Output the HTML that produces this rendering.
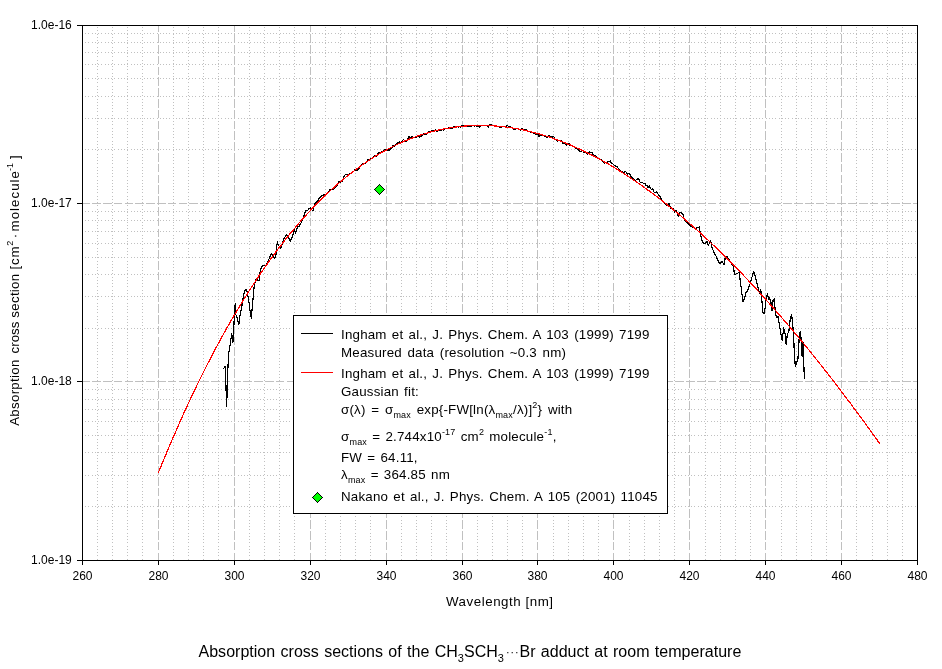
<!DOCTYPE html>
<html lang="en"><head><meta charset="utf-8"><title>Absorption cross sections of the CH3SCH3-Br adduct</title>
<style>html,body{margin:0;padding:0;background:#fff}body{width:942px;height:669px;overflow:hidden}svg{display:block;will-change:transform}text{font-family:"Liberation Sans",sans-serif;fill:#000}</style></head><body>
<svg width="942" height="669" viewBox="0 0 942 669">
<rect width="942" height="669" fill="#fff"/>
<defs><clipPath id="pc"><rect x="83" y="26" width="834" height="534"/></clipPath></defs>
<g clip-path="url(#pc)"><g shape-rendering="crispEdges" stroke="#c0c0c0" stroke-width="1" fill="none">
<line x1="97.5" y1="24" x2="97.5" y2="560" stroke-dasharray="1 2.24"/>
<line x1="112.5" y1="24" x2="112.5" y2="560" stroke-dasharray="1 2.24"/>
<line x1="127.5" y1="24" x2="127.5" y2="560" stroke-dasharray="1 2.24"/>
<line x1="142.5" y1="24" x2="142.5" y2="560" stroke-dasharray="1 2.24"/>
<line x1="158.5" y1="23.3" x2="158.5" y2="560" stroke-dasharray="8.64 2.16"/>
<line x1="173.5" y1="24" x2="173.5" y2="560" stroke-dasharray="1 2.24"/>
<line x1="188.5" y1="24" x2="188.5" y2="560" stroke-dasharray="1 2.24"/>
<line x1="203.5" y1="24" x2="203.5" y2="560" stroke-dasharray="1 2.24"/>
<line x1="218.5" y1="24" x2="218.5" y2="560" stroke-dasharray="1 2.24"/>
<line x1="234.5" y1="23.3" x2="234.5" y2="560" stroke-dasharray="8.64 2.16"/>
<line x1="249.5" y1="24" x2="249.5" y2="560" stroke-dasharray="1 2.24"/>
<line x1="264.5" y1="24" x2="264.5" y2="560" stroke-dasharray="1 2.24"/>
<line x1="279.5" y1="24" x2="279.5" y2="560" stroke-dasharray="1 2.24"/>
<line x1="294.5" y1="24" x2="294.5" y2="560" stroke-dasharray="1 2.24"/>
<line x1="310.5" y1="23.3" x2="310.5" y2="560" stroke-dasharray="8.64 2.16"/>
<line x1="325.5" y1="24" x2="325.5" y2="560" stroke-dasharray="1 2.24"/>
<line x1="340.5" y1="24" x2="340.5" y2="560" stroke-dasharray="1 2.24"/>
<line x1="355.5" y1="24" x2="355.5" y2="560" stroke-dasharray="1 2.24"/>
<line x1="370.5" y1="24" x2="370.5" y2="560" stroke-dasharray="1 2.24"/>
<line x1="386.5" y1="23.3" x2="386.5" y2="560" stroke-dasharray="8.64 2.16"/>
<line x1="401.5" y1="24" x2="401.5" y2="560" stroke-dasharray="1 2.24"/>
<line x1="416.5" y1="24" x2="416.5" y2="560" stroke-dasharray="1 2.24"/>
<line x1="431.5" y1="24" x2="431.5" y2="560" stroke-dasharray="1 2.24"/>
<line x1="446.5" y1="24" x2="446.5" y2="560" stroke-dasharray="1 2.24"/>
<line x1="462.5" y1="23.3" x2="462.5" y2="560" stroke-dasharray="8.64 2.16"/>
<line x1="477.5" y1="24" x2="477.5" y2="560" stroke-dasharray="1 2.24"/>
<line x1="492.5" y1="24" x2="492.5" y2="560" stroke-dasharray="1 2.24"/>
<line x1="507.5" y1="24" x2="507.5" y2="560" stroke-dasharray="1 2.24"/>
<line x1="522.5" y1="24" x2="522.5" y2="560" stroke-dasharray="1 2.24"/>
<line x1="537.5" y1="23.3" x2="537.5" y2="560" stroke-dasharray="8.64 2.16"/>
<line x1="553.5" y1="24" x2="553.5" y2="560" stroke-dasharray="1 2.24"/>
<line x1="568.5" y1="24" x2="568.5" y2="560" stroke-dasharray="1 2.24"/>
<line x1="583.5" y1="24" x2="583.5" y2="560" stroke-dasharray="1 2.24"/>
<line x1="598.5" y1="24" x2="598.5" y2="560" stroke-dasharray="1 2.24"/>
<line x1="613.5" y1="23.3" x2="613.5" y2="560" stroke-dasharray="8.64 2.16"/>
<line x1="629.5" y1="24" x2="629.5" y2="560" stroke-dasharray="1 2.24"/>
<line x1="644.5" y1="24" x2="644.5" y2="560" stroke-dasharray="1 2.24"/>
<line x1="659.5" y1="24" x2="659.5" y2="560" stroke-dasharray="1 2.24"/>
<line x1="674.5" y1="24" x2="674.5" y2="560" stroke-dasharray="1 2.24"/>
<line x1="689.5" y1="23.3" x2="689.5" y2="560" stroke-dasharray="8.64 2.16"/>
<line x1="705.5" y1="24" x2="705.5" y2="560" stroke-dasharray="1 2.24"/>
<line x1="720.5" y1="24" x2="720.5" y2="560" stroke-dasharray="1 2.24"/>
<line x1="735.5" y1="24" x2="735.5" y2="560" stroke-dasharray="1 2.24"/>
<line x1="750.5" y1="24" x2="750.5" y2="560" stroke-dasharray="1 2.24"/>
<line x1="765.5" y1="23.3" x2="765.5" y2="560" stroke-dasharray="8.64 2.16"/>
<line x1="781.5" y1="24" x2="781.5" y2="560" stroke-dasharray="1 2.24"/>
<line x1="796.5" y1="24" x2="796.5" y2="560" stroke-dasharray="1 2.24"/>
<line x1="811.5" y1="24" x2="811.5" y2="560" stroke-dasharray="1 2.24"/>
<line x1="826.5" y1="24" x2="826.5" y2="560" stroke-dasharray="1 2.24"/>
<line x1="841.5" y1="23.3" x2="841.5" y2="560" stroke-dasharray="8.64 2.16"/>
<line x1="856.5" y1="24" x2="856.5" y2="560" stroke-dasharray="1 2.24"/>
<line x1="872.5" y1="24" x2="872.5" y2="560" stroke-dasharray="1 2.24"/>
<line x1="887.5" y1="24" x2="887.5" y2="560" stroke-dasharray="1 2.24"/>
<line x1="902.5" y1="24" x2="902.5" y2="560" stroke-dasharray="1 2.24"/>
<line x1="81.3" y1="203.5" x2="917" y2="203.5" stroke-dasharray="8.64 2.16"/>
<line x1="82" y1="149.5" x2="917" y2="149.5" stroke-dasharray="1 2.24"/>
<line x1="82" y1="118.5" x2="917" y2="118.5" stroke-dasharray="1 2.24"/>
<line x1="82" y1="96.5" x2="917" y2="96.5" stroke-dasharray="1 2.24"/>
<line x1="82" y1="78.5" x2="917" y2="78.5" stroke-dasharray="1 2.24"/>
<line x1="82" y1="64.5" x2="917" y2="64.5" stroke-dasharray="1 2.24"/>
<line x1="82" y1="52.5" x2="917" y2="52.5" stroke-dasharray="1 2.24"/>
<line x1="82" y1="42.5" x2="917" y2="42.5" stroke-dasharray="1 2.24"/>
<line x1="82" y1="33.5" x2="917" y2="33.5" stroke-dasharray="1 2.24"/>
<line x1="81.3" y1="381.5" x2="917" y2="381.5" stroke-dasharray="8.64 2.16"/>
<line x1="82" y1="328.5" x2="917" y2="328.5" stroke-dasharray="1 2.24"/>
<line x1="82" y1="296.5" x2="917" y2="296.5" stroke-dasharray="1 2.24"/>
<line x1="82" y1="274.5" x2="917" y2="274.5" stroke-dasharray="1 2.24"/>
<line x1="82" y1="257.5" x2="917" y2="257.5" stroke-dasharray="1 2.24"/>
<line x1="82" y1="243.5" x2="917" y2="243.5" stroke-dasharray="1 2.24"/>
<line x1="82" y1="231.5" x2="917" y2="231.5" stroke-dasharray="1 2.24"/>
<line x1="82" y1="220.5" x2="917" y2="220.5" stroke-dasharray="1 2.24"/>
<line x1="82" y1="211.5" x2="917" y2="211.5" stroke-dasharray="1 2.24"/>
<line x1="82" y1="506.5" x2="917" y2="506.5" stroke-dasharray="1 2.24"/>
<line x1="82" y1="475.5" x2="917" y2="475.5" stroke-dasharray="1 2.24"/>
<line x1="82" y1="452.5" x2="917" y2="452.5" stroke-dasharray="1 2.24"/>
<line x1="82" y1="435.5" x2="917" y2="435.5" stroke-dasharray="1 2.24"/>
<line x1="82" y1="421.5" x2="917" y2="421.5" stroke-dasharray="1 2.24"/>
<line x1="82" y1="409.5" x2="917" y2="409.5" stroke-dasharray="1 2.24"/>
<line x1="82" y1="399.5" x2="917" y2="399.5" stroke-dasharray="1 2.24"/>
<line x1="82" y1="389.5" x2="917" y2="389.5" stroke-dasharray="1 2.24"/>
</g></g>
<polyline points="223.5,368.7 225.1,366.4 225.8,382.1 226.7,406.8 227.3,382.1 228.5,355.2 230.2,344.0 231.8,333.9 232.9,342.9 234.1,321.6 235.2,303.6 235.9,314.8 237.4,318.2 238.8,324.9 240.1,314.8 241.9,305.9 243.7,294.7 245.3,289.1 246.8,290.2 248.6,299.1 250.0,310.4 251.3,318.2 252.4,305.9 253.6,292.4 254.5,283.5 255.0,283.1 256.4,278.1 257.8,280.2 259.0,280.9 259.7,276.0 260.4,269.6 262.1,266.0 263.8,265.3 265.7,266.0 267.1,263.2 268.5,260.3 269.9,256.8 271.3,253.5 272.3,254.7 273.5,257.5 274.9,258.2 276.0,254.7 276.6,247.6 277.4,241.9 278.0,244.7 279.1,246.1 280.6,248.3 281.7,245.4 282.7,241.9 284.1,238.3 285.5,236.2 286.5,234.8 287.7,236.2 289.1,239.0 290.2,241.2 291.6,238.3 293.1,234.1 294.1,229.8 295.5,233.4 296.5,230.5 297.6,227.0 299.3,226.2 300.7,223.4 301.9,221.3 303.3,217.7 304.7,213.5 306.1,210.3 307.6,210.6 309.0,208.5 310.4,207.8 311.8,209.9 313.0,210.6 313.9,206.4 315.4,202.8 317.5,201.4 319.6,197.8 321.8,195.7 323.9,195.0 325.1,195.2 326.2,195.0 327.4,193.3 328.5,191.9 329.7,189.8 330.8,189.1 332.0,189.9 333.1,189.1 334.3,188.9 335.4,187.3 336.6,186.2 337.7,184.9 338.9,181.5 340.0,182.2 341.2,181.8 342.3,181.1 343.5,177.7 344.6,175.3 345.8,174.6 346.9,174.4 348.1,174.7 349.2,174.0 350.4,173.9 351.5,172.2 352.7,171.9 353.8,171.4 355.0,169.6 356.1,170.9 357.3,169.9 358.4,169.7 359.6,167.2 360.7,165.4 361.9,164.4 363.0,163.8 364.2,163.9 365.3,163.2 366.5,161.7 367.6,160.1 368.8,159.3 369.9,160.3 371.1,158.5 372.2,158.2 373.4,157.9 374.5,155.5 375.7,155.4 376.8,156.3 378.0,153.3 379.1,152.9 380.3,152.6 381.4,151.5 382.6,151.9 383.7,151.2 384.9,149.3 386.0,150.1 387.2,150.1 388.3,150.0 389.5,150.2 390.6,149.0 391.8,147.9 392.9,145.9 394.1,146.1 395.2,145.0 396.4,144.2 397.5,142.9 398.7,142.2 399.8,142.0 401.0,143.0 402.1,140.8 403.3,139.7 404.4,140.3 405.6,141.4 406.7,141.0 407.9,138.7 409.0,136.7 410.2,137.7 411.3,137.2 412.5,136.4 413.6,137.4 414.8,137.9 415.9,137.2 417.1,136.8 418.2,136.5 419.4,137.0 420.5,136.4 421.7,135.8 422.8,135.4 424.0,133.4 425.1,134.3 426.3,134.3 427.4,133.9 428.6,131.7 429.7,131.3 430.9,132.1 432.0,130.4 433.2,130.5 434.3,131.4 435.5,130.0 436.6,131.3 437.8,131.1 438.9,130.3 440.1,130.2 441.2,130.2 442.4,129.7 443.5,130.1 444.7,128.9 445.8,128.3 447.0,129.0 448.1,128.5 449.3,127.5 450.4,128.2 451.6,128.9 452.7,127.8 453.9,126.5 455.0,126.6 456.2,126.6 457.3,126.4 458.5,127.4 459.6,126.2 460.8,127.1 461.9,125.8 463.1,125.4 464.2,126.1 465.4,126.7 466.5,126.9 467.7,126.6 468.8,126.3 470.0,126.1 471.1,126.2 472.3,125.8 473.4,125.8 474.6,126.0 475.7,125.8 476.9,126.1 478.0,126.1 479.2,127.1 480.3,126.5 481.5,125.8 482.6,125.4 483.8,125.4 484.9,126.0 486.1,125.6 487.2,125.8 488.4,126.9 489.5,124.7 490.7,124.4 491.8,125.2 493.0,125.8 494.1,126.0 495.3,125.8 496.4,126.4 497.6,126.5 498.7,126.1 499.9,127.9 501.0,127.6 502.2,126.8 503.3,126.8 504.5,126.8 505.6,126.9 506.8,125.2 507.9,125.9 509.1,127.4 510.2,126.8 511.4,127.3 512.5,128.4 513.7,129.0 514.8,129.9 516.0,128.2 517.1,128.3 518.3,128.5 519.4,129.4 520.6,130.3 521.7,128.2 522.9,129.9 524.0,129.1 525.2,130.3 526.3,129.5 527.5,130.4 528.6,131.8 529.8,131.7 530.9,132.0 532.1,132.8 533.2,132.9 534.4,132.9 535.5,134.2 536.7,134.8 537.8,134.2 539.0,136.3 540.1,134.7 541.3,135.5 542.4,135.2 543.6,135.5 544.7,136.3 545.9,136.5 547.0,137.2 548.2,136.0 549.3,135.5 550.5,137.1 551.6,136.9 552.8,136.9 553.9,136.8 555.1,139.0 556.2,140.1 557.4,141.4 558.5,140.4 559.7,140.8 560.8,140.3 562.0,141.8 563.1,143.5 564.3,142.6 565.4,144.3 566.6,145.0 567.7,144.6 568.9,143.2 570.0,145.4 571.2,145.6 572.3,145.5 573.5,146.5 574.6,147.3 575.8,148.9 576.9,147.9 578.1,149.4 579.2,150.8 580.4,151.8 581.5,151.1 582.7,150.5 583.8,152.0 585.0,152.3 586.1,152.6 587.3,154.2 588.4,153.8 589.6,151.9 590.7,152.8 591.9,152.2 593.0,154.6 594.2,155.7 595.3,155.7 596.5,156.5 597.6,158.0 598.8,158.3 599.9,160.0 601.1,159.8 602.2,161.1 603.4,162.5 604.5,163.6 605.7,162.3 606.8,163.4 608.0,161.5 609.1,161.5 610.3,160.9 611.4,163.9 612.6,163.6 613.7,164.9 614.9,165.7 616.0,166.7 617.2,166.9 618.3,168.2 619.5,170.8 620.6,170.8 621.8,171.6 622.9,172.8 624.1,172.6 625.2,171.6 626.4,172.2 627.5,174.5 628.7,173.3 629.8,174.0 631.0,176.5 632.1,178.0 633.3,178.3 634.4,179.7 635.6,180.2 636.7,179.3 637.9,178.7 639.0,179.8 640.2,182.5 641.3,182.7 642.5,182.8 643.6,183.4 644.8,183.2 645.9,185.1 647.1,185.3 648.2,187.6 649.4,186.1 650.5,188.8 651.7,189.5 652.8,188.8 654.0,191.9 655.1,192.9 656.3,191.5 657.4,192.8 658.6,195.3 659.7,196.2 660.9,198.6 662.0,200.3 663.2,201.6 664.3,202.3 665.5,204.4 666.6,205.2 667.8,205.8 668.9,203.4 670.1,206.3 671.2,208.8 672.4,208.6 673.5,208.8 674.7,212.3 675.8,210.1 677.0,212.2 678.1,216.2 679.3,214.7 680.0,211.9 682.8,214.2 685.1,221.3 687.1,222.7 689.9,225.6 692.8,227.5 695.6,228.4 698.5,227.5 699.3,227.0 700.4,234.1 702.7,242.6 705.0,244.0 707.0,241.2 708.4,245.4 710.7,240.6 711.8,246.9 714.1,252.5 716.4,256.8 718.3,261.1 719.8,263.9 722.0,261.1 724.0,264.8 725.4,256.8 726.9,256.2 728.8,259.1 731.1,262.5 733.4,266.7 734.5,274.4 736.8,273.8 739.1,272.4 740.5,282.4 741.9,293.7 743.1,301.7 744.8,298.0 745.9,292.3 747.6,290.9 749.6,285.2 751.0,280.9 752.7,274.4 753.8,271.6 755.3,276.7 756.7,282.4 758.1,288.0 759.5,293.7 760.7,289.5 761.8,299.4 762.9,312.2 764.1,313.6 765.2,307.9 766.3,296.6 767.5,293.7 768.6,299.4 769.7,298.0 770.9,302.2 772.0,310.8 773.2,299.4 774.3,298.8 775.4,313.6 776.6,317.9 778.0,316.4 779.4,325.0 780.8,333.5 782.2,340.6 783.7,327.8 785.1,333.5 786.2,344.8 787.4,333.5 788.8,332.1 790.2,319.3 791.6,314.5 792.8,325.0 793.6,336.3 794.5,356.2 795.3,366.1 796.4,363.3 797.9,359.0 799.3,336.3 800.4,331.2 801.6,344.8 802.1,356.2 803.0,342.0 803.8,364.7 804.4,379.5" fill="none" stroke="#000" stroke-width="1.2" stroke-linejoin="round" shape-rendering="crispEdges"/>
<polyline points="158.2,473.1 162.0,463.8 165.8,454.7 169.6,445.7 173.4,436.9 177.2,428.2 180.9,419.7 184.7,411.3 188.5,403.1 192.3,395.0 196.1,387.0 199.9,379.3 203.7,371.6 207.5,364.1 211.3,356.8 215.1,349.5 218.9,342.5 222.7,335.5 226.5,328.7 230.3,322.0 234.1,315.5 237.9,309.1 241.7,302.8 245.5,296.7 249.3,290.6 253.1,284.7 256.9,279.0 260.7,273.3 264.5,267.8 268.3,262.4 272.1,257.1 275.9,252.0 279.7,246.9 283.5,242.0 287.3,237.2 291.1,232.5 294.9,228.0 298.7,223.5 302.5,219.1 306.3,214.9 310.1,210.8 313.9,206.8 317.7,202.9 321.5,199.1 325.3,195.4 329.1,191.8 332.9,188.3 336.7,184.9 340.5,181.7 344.3,178.5 348.1,175.4 351.9,172.5 355.7,169.6 359.5,166.8 363.3,164.1 367.1,161.6 370.8,159.1 374.6,156.7 378.4,154.4 382.2,152.2 386.0,150.1 389.8,148.1 393.6,146.2 397.4,144.3 401.2,142.6 405.0,140.9 408.8,139.4 412.6,137.9 416.4,136.5 420.2,135.2 424.0,134.0 427.8,132.8 431.6,131.8 435.4,130.8 439.2,129.9 443.0,129.1 446.8,128.4 450.6,127.8 454.4,127.2 458.2,126.7 462.0,126.3 465.8,126.0 469.6,125.7 473.4,125.5 477.2,125.4 481.0,125.4 484.8,125.5 488.6,125.6 492.4,125.8 496.2,126.0 500.0,126.4 503.8,126.8 507.6,127.3 511.4,127.8 515.2,128.5 519.0,129.1 522.8,129.9 526.6,130.7 530.4,131.6 534.2,132.6 538.0,133.6 541.8,134.7 545.6,135.9 549.4,137.1 553.2,138.4 557.0,139.8 560.7,141.2 564.5,142.6 568.3,144.2 572.1,145.8 575.9,147.5 579.7,149.2 583.5,151.0 587.3,152.8 591.1,154.7 594.9,156.7 598.7,158.7 602.5,160.8 606.3,162.9 610.1,165.1 613.9,167.4 617.7,169.7 621.5,172.1 625.3,174.5 629.1,177.0 632.9,179.5 636.7,182.1 640.5,184.7 644.3,187.4 648.1,190.2 651.9,193.0 655.7,195.8 659.5,198.7 663.3,201.7 667.1,204.7 670.9,207.7 674.7,210.8 678.5,214.0 682.3,217.2 686.1,220.4 689.9,223.8 693.7,227.1 697.5,230.5 701.3,233.9 705.1,237.4 708.9,241.0 712.7,244.6 716.5,248.2 720.3,251.9 724.1,255.6 727.9,259.4 731.7,263.2 735.5,267.1 739.3,271.0 743.1,274.9 746.9,278.9 750.6,282.9 754.4,287.0 758.2,291.1 762.0,295.3 765.8,299.5 769.6,303.7 773.4,308.0 777.2,312.4 781.0,316.7 784.8,321.1 788.6,325.6 792.4,330.1 796.2,334.6 800.0,339.2 803.8,343.8 807.6,348.4 811.4,353.1 815.2,357.8 819.0,362.6 822.8,367.4 826.6,372.2 830.4,377.1 834.2,382.0 838.0,387.0 841.8,391.9 845.6,397.0 849.4,402.0 853.2,407.1 857.0,412.2 860.8,417.4 864.6,422.6 868.4,427.8 872.2,433.1 876.0,438.4 879.8,443.7" fill="none" stroke="#f00" stroke-width="1.2" shape-rendering="crispEdges"/>
<polygon points="379.5,184.5 384.5,189.5 379.5,194.5 374.5,189.5" fill="#0f0" stroke="#000" stroke-width="1" shape-rendering="crispEdges"/>
<g shape-rendering="crispEdges" stroke="#000" stroke-width="1" fill="none">
<rect x="82.5" y="25.5" width="835" height="535"/>
<line x1="82.5" y1="560" x2="82.5" y2="565"/>
<line x1="158.5" y1="560" x2="158.5" y2="565"/>
<line x1="234.5" y1="560" x2="234.5" y2="565"/>
<line x1="310.5" y1="560" x2="310.5" y2="565"/>
<line x1="386.5" y1="560" x2="386.5" y2="565"/>
<line x1="462.5" y1="560" x2="462.5" y2="565"/>
<line x1="537.5" y1="560" x2="537.5" y2="565"/>
<line x1="613.5" y1="560" x2="613.5" y2="565"/>
<line x1="689.5" y1="560" x2="689.5" y2="565"/>
<line x1="765.5" y1="560" x2="765.5" y2="565"/>
<line x1="841.5" y1="560" x2="841.5" y2="565"/>
<line x1="917.5" y1="560" x2="917.5" y2="565"/>
<line x1="77" y1="25.5" x2="82" y2="25.5"/>
<line x1="77" y1="203.5" x2="82" y2="203.5"/>
<line x1="77" y1="381.5" x2="82" y2="381.5"/>
<line x1="77" y1="560.5" x2="82" y2="560.5"/>
</g>
<g font-size="12px" text-anchor="middle">
<text x="82.5" y="580">260</text>
<text x="158.5" y="580">280</text>
<text x="234.5" y="580">300</text>
<text x="310.5" y="580">320</text>
<text x="386.5" y="580">340</text>
<text x="462.5" y="580">360</text>
<text x="537.5" y="580">380</text>
<text x="613.5" y="580">400</text>
<text x="689.5" y="580">420</text>
<text x="765.5" y="580">440</text>
<text x="841.5" y="580">460</text>
<text x="917.5" y="580">480</text>
</g>
<g font-size="12px" text-anchor="end">
<text x="71.8" y="28.5">1.0e-16</text>
<text x="71.8" y="206.5">1.0e-17</text>
<text x="71.8" y="384.5">1.0e-18</text>
<text x="71.8" y="563.5">1.0e-19</text>
</g>
<text x="446" y="606" font-size="13.33px" textLength="107" lengthAdjust="spacing">Wavelength [nm]</text>
<text transform="translate(19,426) rotate(-90)" font-size="13.33px"><tspan x="0.2" letter-spacing="0.27">Absorption</tspan> <tspan x="72.6">cross</tspan> <tspan x="108.3" letter-spacing="0.28">section</tspan> <tspan x="156.5" letter-spacing="0.8">[cm</tspan><tspan x="180.2" font-size="9px" dy="-6">2</tspan><tspan x="184.1" dy="6"> ·</tspan> <tspan x="194.6" letter-spacing="1">molecule</tspan><tspan x="255.1" font-size="9px" dy="-6">-1</tspan><tspan x="267" dy="6">]</tspan></text>
<text x="198.5" y="656.7" font-size="16px" letter-spacing="0.02" word-spacing="0.85">Absorption cross sections of the CH<tspan font-size="11px" dy="5">3</tspan><tspan dy="-5">SCH</tspan><tspan font-size="11px" dy="5">3</tspan><tspan dy="-5.5" dx="1.5" font-size="13.5px" fill="#333">···</tspan><tspan dy="0.5" dx="0.5">Br adduct at room temperature</tspan></text>
<rect x="293.5" y="315.5" width="374" height="198" fill="#fff" stroke="#000" stroke-width="1" shape-rendering="crispEdges"/>
<line x1="301" y1="333.5" x2="333" y2="333.5" stroke="#000" stroke-width="1" shape-rendering="crispEdges"/>
<line x1="301" y1="372.5" x2="333" y2="372.5" stroke="#f00" stroke-width="1" shape-rendering="crispEdges"/>
<polygon points="317.5,492.5 322.5,497.5 317.5,502.5 312.5,497.5" fill="#0f0" stroke="#000" stroke-width="1" shape-rendering="crispEdges"/>
<g font-size="13.33px" letter-spacing="0.2" word-spacing="1.3">
<text x="341" y="339">Ingham et al., J. Phys. Chem. A 103 (1999) 7199</text>
<text x="341" y="357" word-spacing="1.7">Measured data (resolution ~0.3 nm)</text>
<text x="341" y="378">Ingham et al., J. Phys. Chem. A 103 (1999) 7199</text>
<text x="341" y="396">Gaussian fit:</text>
<text x="341" y="414" word-spacing="1.8">σ(λ) = σ<tspan font-size="9px" dy="4">max</tspan><tspan dy="-4"> exp{-FW[ln(λ</tspan><tspan font-size="9px" dy="4">max</tspan><tspan dy="-4">/λ)]</tspan><tspan font-size="9px" dy="-6">2</tspan><tspan dy="6">} with</tspan></text>
<text x="341" y="441">σ<tspan font-size="9px" dy="4">max</tspan><tspan dy="-4"> = 2.744x10</tspan><tspan font-size="9px" dy="-6">-17</tspan><tspan dy="6"> cm</tspan><tspan font-size="9px" dy="-6">2</tspan><tspan dy="6"> molecule</tspan><tspan font-size="9px" dy="-6">-1</tspan><tspan dy="6">,</tspan></text>
<text x="341" y="462">FW = 64.11,</text>
<text x="341" y="479">λ<tspan font-size="9px" dy="4">max</tspan><tspan dy="-4"> = 364.85 nm</tspan></text>
<text x="341" y="501">Nakano et al., J. Phys. Chem. A 105 (2001) 11045</text>
</g>
</svg></body></html>
